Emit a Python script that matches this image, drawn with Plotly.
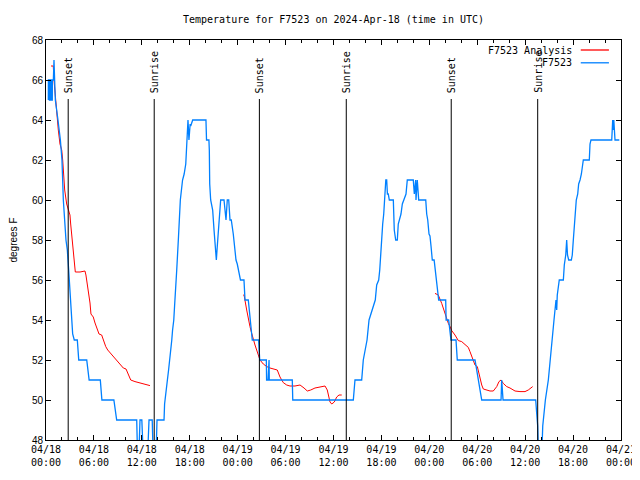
import plotly.graph_objects as go
from datetime import datetime, timedelta

BASE = datetime(2024, 4, 18, 0, 0)

# Hours since 2024-04-18 00:00 UTC, temperature in degrees F
blue_hours = [0.29, 0.3, 0.42, 0.43, 0.54, 0.55, 0.67, 0.68, 0.79, 0.8, 0.92, 1.0, 1.08, 1.17,
              1.5, 1.8, 2.0, 2.17, 2.5, 2.67, 2.84, 3.04, 3.22, 3.34, 3.54, 3.92, 4.1, 5.1, 5.4,
              6.8, 7.0, 8.5, 8.85, 11.36, 11.45, 11.65, 11.77, 12.0, 12.15, 12.75, 12.9, 13.3,
              13.4, 13.8, 13.9, 14.78, 14.85, 15.0, 15.2, 15.35, 15.5, 15.6, 15.75, 15.85, 16.0,
              16.1, 16.2, 16.37, 16.57, 16.7, 16.82, 17.1, 17.3, 17.5, 17.66, 17.78, 17.9, 18.05,
              18.12, 18.37, 20.03, 20.1, 20.4, 20.45, 20.5, 20.62, 20.87, 21.04, 21.16, 21.33,
              21.45, 21.58, 21.75, 21.87, 22.29, 22.45, 22.54, 22.7, 22.88, 23.04, 23.2, 23.45,
              23.63, 23.79, 23.95, 24.13, 24.29, 24.35, 24.79, 24.92, 25.33, 25.54, 25.83, 26.63,
              26.76, 27.59, 27.62, 27.8, 27.84, 27.93, 27.96, 30.84, 30.9, 38.48, 38.69, 39.53,
              39.73, 40.0, 40.2, 40.45, 40.8, 41.23, 41.41, 41.66, 41.79, 41.91, 42.04, 42.16,
              42.29, 42.41, 42.55, 42.66, 42.75, 42.86, 42.99, 43.49, 43.61, 43.79, 43.99, 44.11,
              44.24, 44.45, 44.62, 44.83, 45.08, 45.24, 45.99, 46.12, 46.29, 46.33, 46.49, 46.67,
              47.55, 47.67, 47.8, 47.96, 48.08, 48.21, 48.37, 48.6, 48.75, 48.87, 49.05, 49.17,
              50.05, 50.1, 50.42, 50.59, 50.71, 51.34, 51.5, 53.72, 53.93, 54.13, 54.35, 54.56,
              56.98, 57.06, 57.23, 61.32, 61.45, 61.57, 61.65, 62.1, 62.2, 62.36, 62.53, 62.9,
              63.11, 63.36, 63.61, 63.86, 63.95, 64.02, 64.2, 64.27, 64.78, 64.9, 65.08, 65.2,
              65.3, 65.45, 65.78, 65.9, 66.03, 66.12, 66.24, 66.4, 66.58, 66.7, 66.87, 67.04,
              67.21, 67.28, 68.03, 68.12, 68.24, 70.84, 70.96, 71.04, 71.1, 71.25, 71.79]
blue_temps = [65, 66, 66, 65, 65, 66, 66, 65, 65, 66, 66, 67, 66, 65,
              64, 63, 62, 60, 58, 57.5, 56.5, 55, 54.3, 53.3, 53, 53, 52, 52, 51,
              51, 50, 50, 49, 49, 47.5, 47.5, 49, 49, 47.5, 47.5, 49, 49,
              47.5, 47.5, 49, 49, 49.8, 50.5, 51, 51.5, 52, 52.5, 53, 53.5, 54,
              54.7, 55.2, 56.5, 58, 58.8, 60, 61, 61.3, 61.8, 63.3, 64, 63, 63.8,
              63.7, 64, 64, 63, 63, 62.5, 60.8, 60, 59.5, 58.5, 57.7, 57,
              57.7, 58.5, 59.5, 60, 60, 59, 59, 60, 60, 59, 59, 58.3,
              57.7, 57, 56.8, 56.5, 56.1, 56, 56, 55, 55, 54, 53, 53,
              52, 52, 51, 51, 52, 52, 51, 51, 50, 50, 51, 51,
              52, 52.5, 53, 54, 54.5, 55, 55.75, 56, 56.5, 57.5, 58.3, 58.8,
              59.3, 60.3, 61, 61, 60.3, 60.3, 60, 60, 58.5, 58, 58, 58.8,
              59, 59.3, 59.8, 60, 60.3, 61, 61, 60.3, 61, 60, 61, 60,
              60, 59.3, 59, 58.3, 58.2, 57.7, 57, 57, 56.5, 56, 55.7, 55,
              55, 54, 54, 53.3, 53, 53, 52, 52, 51.5, 51, 50.5, 50,
              50, 51, 50, 50, 49.3, 48.7, 47.5, 47.5, 48.7, 49.3, 50, 51,
              52, 53, 54, 55, 54.5, 55.25, 55.75, 56, 56, 56.75, 57.25, 58,
              57.25, 57, 57, 57.25, 58, 58.5, 59.5, 60, 60.3, 60.8, 61, 61.3,
              61.8, 62, 62, 62.8, 63, 63, 64, 63.5, 64, 63, 63]

red_hours = [0.63, 0.91, 1.0, 1.16, 1.34, 1.54, 1.75, 1.97, 2.09, 2.17, 2.34, 2.59, 2.84, 3.0,
             3.09, 3.22, 3.29, 3.42, 3.54, 3.67, 4.26, 4.88, 5.0, 5.13, 5.26, 5.38, 5.51, 5.63,
             5.92, 6.14, 6.35, 6.64, 6.97, 7.18, 7.48, 7.73, 8.01, 8.43, 8.77, 9.27, 9.68, 10.02,
             10.31, 10.61, 11.14, 11.77, 12.4, 13.02, None,
             24.71, 24.8, 25.13, 25.33, 25.54, 25.76, 25.96, 26.17, 26.38, 26.58, 26.8, 27.21,
             27.64, 28.05, 28.46, 28.96, 29.3, 29.71, 30.14, 30.55, 31.18, 31.81, 32.31, 32.72,
             33.15, 33.68, 34.31, 34.94, 35.22, 35.56, 35.78, 36.1, 36.4, 36.69, 37.03, None,
             48.71, 49.12, 49.55, 49.75, 49.96, 50.17, 50.38, 50.59, 50.8, 51.21, 51.63, 52.05,
             52.47, 52.88, 53.09, 53.43, 53.72, 54.01, 54.26, 54.56, 54.76, 55.18, 55.6, 56.01,
             56.44, 56.72, 56.98, 57.26, 57.69, 58.1, 58.73, 59.35, 59.98, 60.39, 60.73, 60.94]
red_temps = [66.7, 66.7, 66, 65.2, 64.2, 63.5, 62.8, 62.5, 62, 61.5, 60.5, 59.8, 59.5, 59.25,
             58.8, 58.25, 57.75, 57.2, 56.8, 56.4, 56.4, 56.45, 56.25, 55.9, 55.6, 55.15, 54.85, 54.3,
             54.15, 53.85, 53.6, 53.3, 53.25, 53, 52.67, 52.5, 52.37, 52.17, 52, 51.8, 51.6, 51.55,
             51.25, 51, 50.92, 50.85, 50.75, 50.72, None,
             55.25, 55.25, 54.5, 54, 53.67, 53.33, 53, 52.75, 52.5, 52.25, 52, 51.8,
             51.67, 51.6, 51.55, 51.5, 51.15, 50.87, 50.75, 50.7, 50.7, 50.75, 50.6, 50.45,
             50.5, 50.6, 50.65, 50.7, 50.5, 49.9, 49.8, 49.9, 50.15, 50.25, 50.25, None,
             55.33, 55.25, 54.83, 54.58, 54.42, 54.08, 53.83, 53.67, 53.47, 53.25, 52.97, 52.92,
             52.75, 52.63, 52.42, 52, 51.75, 51.67, 51.17, 50.75, 50.55, 50.5, 50.45, 50.45,
             50.67, 50.92, 51, 50.83, 50.67, 50.6, 50.45, 50.42, 50.42, 50.5, 50.62, 50.67]

sun_hours = [2.78, 13.55, 26.72, 37.6, 50.74, 61.57]
sun_labels = ["Sunset", "Sunrise", "Sunset", "Sunrise", "Sunset", "Sunrise"]
sun_line_top = 65.05

major_tick_hours = list(range(0, 73, 6))
minor_tick_hours = list(range(0, 73, 2))

MONO = "DejaVu Sans Mono"
SANS = "Liberation Sans"
RED = "#ff0000"
BLUE = "#0080ff"

# the page adds an 8px body margin; size the figure so the plot lands where the reference has it
FIG_W, FIG_H = 640, 464


def to_time(h):
    return None if h is None else BASE + timedelta(hours=h)


fig = go.Figure()
fig.add_trace(go.Scatter(x=[to_time(h) for h in red_hours], y=red_temps, mode="lines",
                         name="F7523 Analysis", line=dict(color=RED, width=1),
                         connectgaps=False, showlegend=False))
fig.add_trace(go.Scatter(x=[to_time(h) for h in blue_hours], y=blue_temps, mode="lines",
                         name="F7523", line=dict(color=BLUE, width=1.3), showlegend=False))

for h, lab in zip(sun_hours, sun_labels):
    t = to_time(h)
    fig.add_shape(type="line", xref="x", yref="y", x0=t, x1=t, y0=48, y1=sun_line_top,
                  line=dict(color="black", width=1))
    fig.add_annotation(x=t, y=sun_line_top, xref="x", yref="y", text=lab, showarrow=False,
                       textangle=-90, xanchor="center", yanchor="bottom", yshift=4,
                       font=dict(family=MONO, size=10, color="black"))

# legend (gnuplot style: text right-aligned, sample on the right)
for name, color, ypos in [("F7523 Analysis", RED, 0.975), ("F7523", BLUE, 0.943)]:
    fig.add_annotation(x=0.918, y=ypos, xref="paper", yref="paper", text=name, showarrow=False,
                       xanchor="right", yanchor="middle", font=dict(family=MONO, size=10, color="black"))
    fig.add_shape(type="line", xref="paper", yref="paper", x0=0.930, x1=0.979, y0=ypos, y1=ypos,
                  line=dict(color=color, width=1.3))

fig.update_layout(
    width=FIG_W, height=FIG_H,
    margin=dict(l=38, r=27, t=32, b=32, autoexpand=False),
    paper_bgcolor="white", plot_bgcolor="white",
    title=dict(text="Temperature for F7523 on 2024-Apr-18 (time in UTC)", x=0.5, xref="paper",
               xanchor="center", y=1 - 11 / FIG_H, yref="container", yanchor="middle",
               automargin=False, font=dict(family=MONO, size=10, color="black")),
    xaxis=dict(type="date", range=[to_time(0), to_time(72)], automargin=False,
               tickmode="array", tickvals=[to_time(h) for h in major_tick_hours],
               ticktext=[to_time(h).strftime("%m/%d<br>%H:%M") for h in major_tick_hours],
               ticks="inside", ticklen=5, tickcolor="black", ticklabeloverflow="allow",
               minor=dict(tickmode="array", tickvals=[to_time(h) for h in minor_tick_hours],
                          ticks="inside", ticklen=3, tickcolor="black"),
               showline=True, linecolor="black", linewidth=1, mirror="ticks",
               showgrid=False, zeroline=False,
               tickfont=dict(family=MONO, size=10, color="black")),
    yaxis=dict(range=[48, 68], tickmode="linear", tick0=48, dtick=2, automargin=False,
               ticks="inside", ticklen=5, tickcolor="black",
               showline=True, linecolor="black", linewidth=1, mirror="ticks",
               showgrid=False, zeroline=False,
               tickfont=dict(family=SANS, size=10, color="black"),
               title=dict(text="degrees F", font=dict(family=SANS, size=10, color="black"), standoff=16)),
)

fig.write_html("out.html")
